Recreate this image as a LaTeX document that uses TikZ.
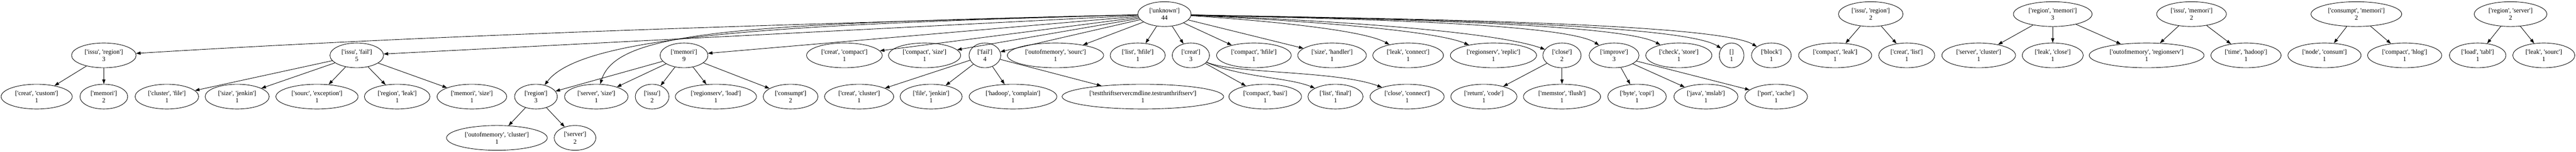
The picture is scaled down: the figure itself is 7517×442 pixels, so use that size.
\documentclass[tikz,border=0pt]{standalone}
\usepackage{fontspec}
\newfontfamily\gvfont{Liberation Serif}
\usetikzlibrary{shapes.geometric}
\usetikzlibrary{arrows.meta}
\tikzset{gvnode/.style={draw,ellipse,line width=1pt,align=center,
 font=\gvfont\fontsize{14}{16}\selectfont,
 inner xsep=8pt,inner ysep=4pt,minimum width=54pt,minimum height=54pt},
 gvedge/.style={line width=1pt,-{Triangle[length=10pt,width=7pt]}},
 }

\begin{document}
\begin{tikzpicture}[x=0.75pt,y=-0.75pt]
        \useasboundingbox (0,0) rectangle (7517,442);
        \node[gvnode] (root) at (3398,41) {['unknown']\\44};
        \node[gvnode] (issreg3) at (303,161) {['issu', 'region']\\3};
        \node[gvnode] (issfail) at (1041,161) {['issu', 'fail']\\5};
        \node[gvnode] (memori9) at (1996,161) {['memori']\\9};
        \node[gvnode] (crcomp) at (2464,161) {['creat', 'compact']\\1};
        \node[gvnode] (compsize) at (2698,161) {['compact', 'size']\\1};
        \node[gvnode] (fail4) at (2874,161) {['fail']\\4};
        \node[gvnode] (oomsrc) at (3080,161) {['outofmemory', 'sourc']\\1};
        \node[gvnode] (lsthfile) at (3320,161) {['list', 'hfile']\\1};
        \node[gvnode] (creat3) at (3475,161) {['creat']\\3};
        \node[gvnode] (comphfile) at (3659,161) {['compact', 'hfile']\\1};
        \node[gvnode] (sizehand) at (3887,161) {['size', 'handler']\\1};
        \node[gvnode] (leakconn) at (4109,161) {['leak', 'connect']\\1};
        \node[gvnode] (rsreplic) at (4358,161) {['regionserv', 'replic']\\1};
        \node[gvnode] (close2) at (4558,161) {['close']\\2};
        \node[gvnode] (improve3) at (4710,161) {['improve']\\3};
        \node[gvnode] (chkstore) at (4899,161) {['check', 'store']\\1};
        \node[gvnode] (nolist) at (5053,161) {[]\\1};
        \node[gvnode] (block) at (5169,161) {['block']\\1};

        \node[gvnode] (crcustom) at (107,281) {['creat', 'custom']\\1};
        \node[gvnode] (memori2) at (303,281) {['memori']\\2};
        \node[gvnode] (clfile) at (487,281) {['cluster', 'file']\\1};
        \node[gvnode] (sizejen) at (692,281) {['size', 'jenkin']\\1};
        \node[gvnode] (srcexc) at (925,281) {['sourc', 'exception']\\1};
        \node[gvnode] (regleak) at (1159,281) {['region', 'leak']\\1};
        \node[gvnode] (memsize) at (1377,281) {['memori', 'size']\\1};
        \node[gvnode] (region3) at (1564,281) {['region']\\3};
        \node[gvnode] (srvsize) at (1740,281) {['server', 'size']\\1};
        \node[gvnode] (issu2) at (1903,281) {['issu']\\2};
        \node[gvnode] (rsload) at (2089,281) {['regionserv', 'load']\\1};
        \node[gvnode] (consumpt) at (2307,281) {['consumpt']\\2};
        \node[gvnode] (crcluster) at (2507,281) {['creat', 'cluster']\\1};
        \node[gvnode] (filejen) at (2717,281) {['file', 'jenkin']\\1};
        \node[gvnode] (hadoop) at (2956,281) {['hadoop', 'complain']\\1};
        \node[gvnode] (thrift) at (3335,281) {['testthriftservercmdline.testrunthriftserv']\\1};
        \node[gvnode] (compbasi) at (3692,281) {['compact', 'basi']\\1};
        \node[gvnode] (lstfinal) at (3897,281) {['list', 'final']\\1};
        \node[gvnode] (closeconn) at (4106,281) {['close', 'connect']\\1};
        \node[gvnode] (retcode) at (4330,281) {['return', 'code']\\1};
        \node[gvnode] (memflush) at (4558,281) {['memstor', 'flush']\\1};
        \node[gvnode] (bytecopi) at (4777,281) {['byte', 'copi']\\1};
        \node[gvnode] (javamslab) at (4978,281) {['java', 'mslab']\\1};
        \node[gvnode] (portcache) at (5183,281) {['port', 'cache']\\1};

        \node[gvnode] (oomcluster) at (1450,401) {['outofmemory', 'cluster']\\1};
        \node[gvnode] (server2) at (1678,401) {['server']\\2};

        \node[gvnode] (issreg2) at (5459,41) {['issu', 'region']\\2};
        \node[gvnode] (compleak) at (5355,161) {['compact', 'leak']\\1};
        \node[gvnode] (crlist) at (5564,161) {['creat', 'list']\\1};
        \node[gvnode] (regmem) at (5990,41) {['region', 'memori']\\3};
        \node[gvnode] (srvcluster) at (5774,161) {['server', 'cluster']\\1};
        \node[gvnode] (leakclose) at (5990,161) {['leak', 'close']\\1};
        \node[gvnode] (oomrs) at (6264,161) {['outofmemory', 'regionserv']\\1};
        \node[gvnode] (issmem) at (6395,41) {['issu', 'memori']\\2};
        \node[gvnode] (timehadoop) at (6554,161) {['time', 'hadoop']\\1};
        \node[gvnode] (consmem) at (6876,41) {['consumpt', 'memori']\\2};
        \node[gvnode] (nodecons) at (6783,161) {['node', 'consum']\\1};
        \node[gvnode] (comphlog) at (7017,161) {['compact', 'hlog']\\1};
        \node[gvnode] (regsrv) at (7326,41) {['region', 'server']\\2};
        \node[gvnode] (loadtabl) at (7230,161) {['load', 'tabl']\\1};
        \node[gvnode] (leaksrc) at (7423,161) {['leak', 'sourc']\\1};

        \foreach \pa/\ch in {root/issfail, root/memori9, root/crcomp, root/compsize,
            root/fail4, root/oomsrc, root/lsthfile, root/creat3, root/comphfile,
            root/sizehand, issreg3/crcustom, issreg3/memori2, issfail/clfile,
            issfail/sizejen, issfail/srcexc, issfail/regleak, issfail/memsize,
            memori9/region3, memori9/srvsize, memori9/issu2, memori9/rsload,
            memori9/consumpt, region3/oomcluster, region3/server2,
            fail4/crcluster, fail4/filejen, fail4/hadoop, fail4/thrift,
            creat3/compbasi, close2/retcode, close2/memflush,
            improve3/bytecopi, improve3/javamslab, improve3/portcache,
            issreg2/compleak, issreg2/crlist, regmem/srvcluster, regmem/leakclose,
            regmem/oomrs, issmem/oomrs, issmem/timehadoop, consmem/nodecons,
            consmem/comphlog, regsrv/loadtabl, regsrv/leaksrc} {
            \draw[gvedge] (\pa) -- (\ch);
        }
        \foreach \ch/\ax/\bx/\by in {leakconn/3576/3967/80, rsreplic/3638/4166/80,
            close2/3688/4326/80, improve3/3726/4560/60, chkstore/3773/4720/60,
            nolist/3812/4900/60, block/3841/5000/60} {
            \draw[gvedge] (root) .. controls (\ax,52) and (\bx,\by) .. (\ch);
        }
        \draw[gvedge] (root) .. controls (2300,70) and (1300,100) .. (issreg3);
        \draw[gvedge] (root) .. controls (2300,71) and (1700,100) .. (region3);
        \draw[gvedge] (root) .. controls (2150,70) and (1800,90) .. (srvsize);
        \draw[gvedge] (creat3) .. controls (3620,225) and (3760,225) .. (lstfinal);
        \draw[gvedge] (creat3) .. controls (3600,215) and (3900,205) .. (closeconn);
\end{tikzpicture}
\end{document}
